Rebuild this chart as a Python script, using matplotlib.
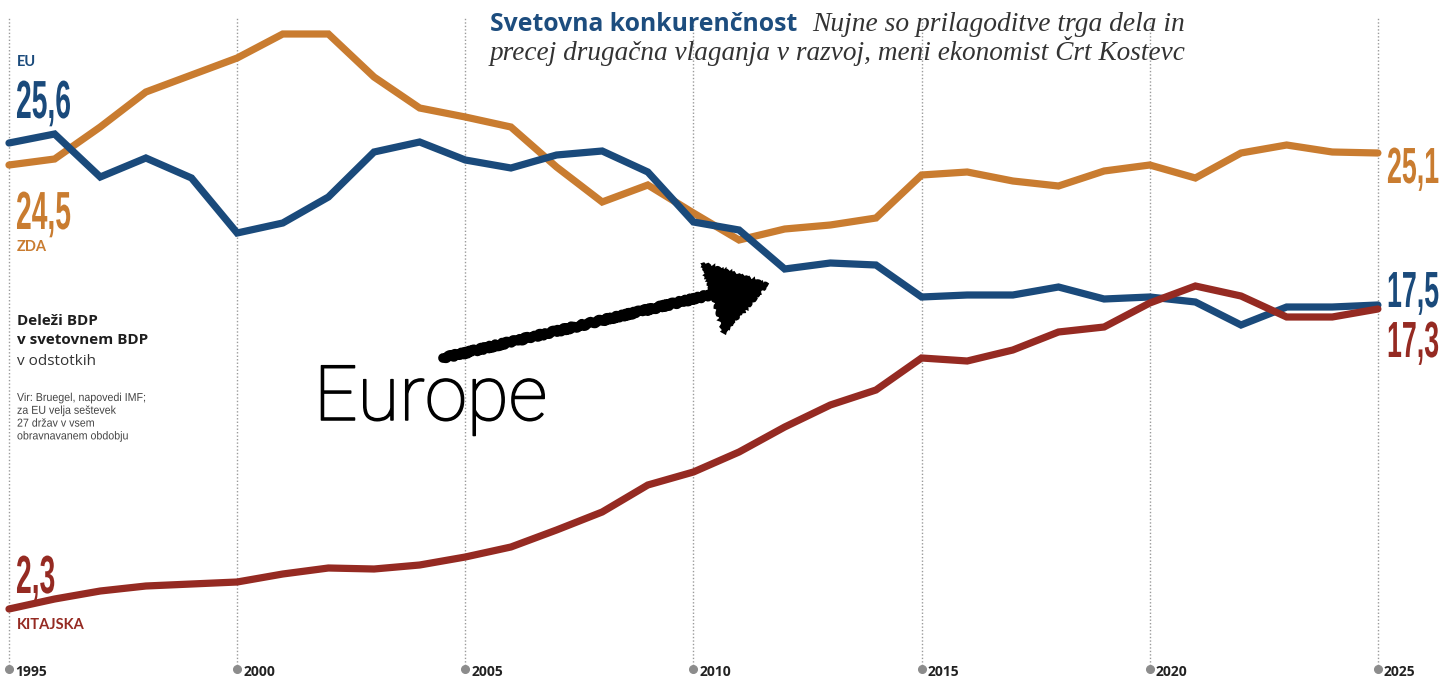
import matplotlib
matplotlib.use("Agg")
import matplotlib.pyplot as plt
import matplotlib.patheffects as pe
from matplotlib.textpath import TextPath
from matplotlib.font_manager import FontProperties
from matplotlib.patches import PathPatch, Polygon
from matplotlib.lines import Line2D
from matplotlib.transforms import Affine2D, offset_copy

# Deleži BDP v svetovnem BDP (v odstotkih), 1995-2025
years = list(range(1995, 2026))
eu = [25.6, 26.05, 23.9, 24.85, 23.85, 21.1, 21.6, 22.9, 25.15, 25.65,
      24.75, 24.35, 25.0, 25.2, 24.15, 21.65, 21.25, 19.3, 19.6, 19.5,
      17.9, 18.0, 18.0, 18.4, 17.8, 17.9, 17.65, 16.5, 17.4, 17.4, 17.5]
zda = [24.5, 24.8, 26.4, 28.15, 29.0, 29.85, 31.05, 31.05, 28.9, 27.35,
       26.9, 26.4, 24.4, 22.65, 23.5, 22.1, 20.75, 21.3, 21.5, 21.85,
       24.0, 24.15, 23.7, 23.45, 24.2, 24.5, 23.85, 25.1, 25.5, 25.15, 25.1]
kitajska = [2.3, 2.8, 3.2, 3.45, 3.55, 3.65, 4.05, 4.35, 4.3, 4.5,
            4.9, 5.4, 6.25, 7.15, 8.5, 9.15, 10.15, 11.4, 12.5, 13.25,
            14.85, 14.7, 15.25, 16.15, 16.4, 17.6, 18.45, 17.95, 16.9, 16.9, 17.3]
tick_years = [1995, 2000, 2005, 2010, 2015, 2020, 2025]

BLUE = "#1a4a7b"
ORANGE = "#c97c30"
RED = "#952a22"

W, H = 1439, 677
fig = plt.figure(figsize=(W / 100, H / 100), dpi=100)
ax = fig.add_axes([0, 0, 1, 1])
ax.set_xlim(1994.803, 2026.339)
ax.set_ylim(-1.1, 32.75)
ax.axis("off")


def fx(px):
    return px / W


def fy(py):
    return 1 - py / H


# pikčaste navpične črte s piko in letnico spodaj
xt = ax.get_xaxis_transform()
for y in tick_years:
    ax.axvline(y, ymin=fy(669), ymax=fy(17), color="#9a9a9a", lw=1,
               ls=(0, (1, 1.5)), zorder=1)
    ax.plot([y], [fy(669)], "o", ms=5.5, color="#8c8c8c", transform=xt,
            clip_on=False, zorder=2)
    ax.text(y, fy(676), str(y), transform=offset_copy(xt, fig, x=6, units="dots"),
            ha="left", va="baseline", fontsize=10, fontweight="bold",
            family="Open Sans", color="#222222")

for vals, col in [(zda, ORANGE), (eu, BLUE), (kitajska, RED)]:
    ax.plot(years, vals, color=col, lw=5.2, solid_joinstyle="miter",
            solid_capstyle="round", zorder=3)


# besedilo, stisnjeno v širino (pisava nima ozke različice)
def squashed(text, x_px, base_px, size_px, sx, color, prop):
    tp = TextPath((0, 0), text, size=size_px, prop=prop)
    tr = (Affine2D().scale(sx, 1).translate(x_px, H - base_px).scale(1 / 100)
          + fig.dpi_scale_trans)
    fig.add_artist(PathPatch(tp, transform=tr, color=color, lw=0))


num_font = FontProperties(family="Liberation Sans", weight="bold")
digit_h = TextPath((0, 0), "0", size=1, prop=num_font).get_extents().height
ref_w = TextPath((0, 0), "25,6", size=38 / digit_h, prop=num_font).get_extents().width
num_sx = 53 / ref_w


def big_number(text, x_px, top_px, height_px, color):
    squashed(text, x_px, top_px + height_px, height_px / digit_h, num_sx,
             color, num_font)


big_number("25,6", 16, 80, 38, BLUE)
big_number("24,5", 16, 191, 38, ORANGE)
big_number("2,3", 16, 555, 38, RED)
big_number("25,1", 1387, 147, 36, ORANGE)
big_number("17,5", 1387, 271, 36, BLUE)
big_number("17,3", 1387, 321, 36, RED)

small = dict(fontsize=10.5, fontweight="bold", family="Lato", va="baseline")
fig.text(fx(17), fy(66), "EU", color=BLUE, **small)
fig.text(fx(17), fy(251), "ZDA", color=ORANGE, **small)
fig.text(fx(17), fy(629), "KITAJSKA", color=RED, **small)

# opis
fig.text(fx(17), fy(325), "Deleži BDP", fontsize=11, fontweight="bold",
         family="Open Sans", color="#1e1e1e", va="baseline")
fig.text(fx(17), fy(344), "v svetovnem BDP", fontsize=11, fontweight="bold",
         family="Open Sans", color="#1e1e1e", va="baseline")
fig.text(fx(17), fy(365), "v odstotkih", fontsize=11,
         family="Open Sans", color="#333333", va="baseline")
vir = ["Vir: Bruegel, napovedi IMF;", "za EU velja seštevek",
       "27 držav v vsem", "obravnavanem obdobju"]
vir_font = FontProperties(family="Liberation Sans")
vir_sx = 128 / TextPath((0, 0), vir[0], size=11.5, prop=vir_font).get_extents().width
for i, line in enumerate(vir):
    squashed(line, 17, 401 + i * 12.8, 11.5, vir_sx, "#444444", vir_font)

# naslov
fig.text(fx(490), fy(31), "Svetovna konkurenčnost", fontsize=17.8,
         fontweight="bold", family="Open Sans", color="#1d4d7e", va="baseline")
fig.text(fx(812), fy(31), "Nujne so prilagoditve trga dela in", fontsize=19.8,
         style="italic", family="Liberation Serif", color="#333333", va="baseline")
fig.text(fx(490), fy(60), "precej drugačna vlaganja v razvoj, meni ekonomist Črt Kostevc",
         fontsize=19.6, style="italic", family="Liberation Serif", color="#333333",
         va="baseline")

# ročno narisana puščica in napis
shaft = Line2D([fx(443), fx(714)], [fy(358), fy(294)], transform=fig.transFigure,
               color="black", lw=7, solid_capstyle="round")
shaft.set_sketch_params(scale=1.5, length=8, randomness=4)
fig.add_artist(shaft)
head = Polygon([(fx(703), fy(264)), (fx(767), fy(285)), (fx(724), fy(332))],
               closed=True, transform=fig.transFigure, color="black", lw=2)
head.set_sketch_params(scale=1.5, length=6, randomness=4)
fig.add_artist(head)
fig.text(fx(314), fy(420), "Europe", fontsize=55, fontweight="light",
         family="Roboto", color="black", va="baseline",
         path_effects=[pe.withStroke(linewidth=1.1, foreground="black")])

fig.savefig("out.png", dpi=100, facecolor="white")
